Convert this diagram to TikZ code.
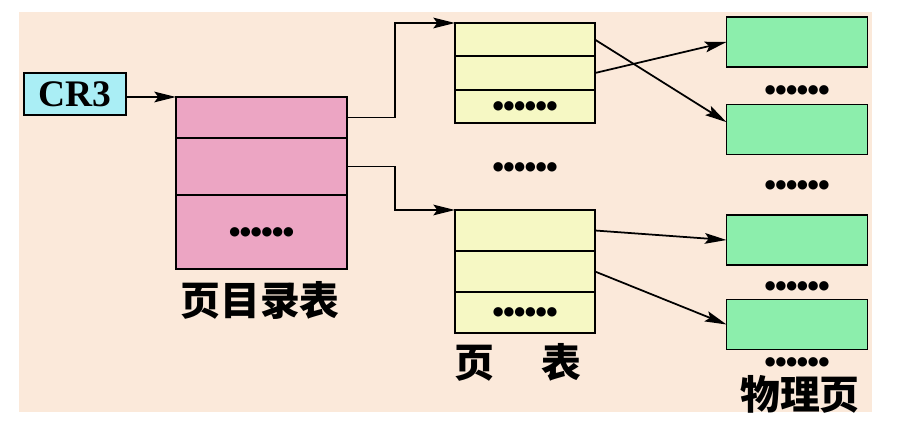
\documentclass[tikz,border=0pt]{standalone}
\usepackage{fontspec}
\setmainfont{Liberation Serif}
\newfontfamily\cjk{Noto Sans CJK SC}
\newfontfamily\symb{DejaVu Sans}
\usepackage{xcolor}
\usetikzlibrary{positioning, arrows.meta}

\definecolor{paper}{RGB}{251,233,218}
\definecolor{pinkfill}{RGB}{236,165,195}
\definecolor{yellowfill}{RGB}{246,248,196}
\definecolor{greenfill}{RGB}{140,238,172}
\definecolor{cyanfill}{RGB}{170,238,245}
\newcommand\sixdots{●●●●●●}

\begin{document}
\begin{tikzpicture}[
  x=0.03cm, y=-0.03cm,
  cell/.style={draw, line width=1.5pt, inner sep=0pt, outer sep=0pt},
  regbox/.style={cell, fill=cyanfill, minimum width=3.06cm, minimum height=1.26cm,
    font=\bfseries\fontsize{32}{32}\selectfont},
  pdrow/.style={cell, fill=pinkfill, minimum width=5.13cm},
  ptrow/.style={cell, fill=yellowfill, minimum width=4.2cm},
  page/.style={cell, fill=greenfill, minimum width=4.23cm, minimum height=1.5cm},
  dots/.style={font=\symb\fontsize{10.5}{10.5}\selectfont, inner sep=0pt},
  lbl/.style={font=\cjk\bfseries\fontsize{34}{34}\selectfont},
  arr/.style={-{Stealth[length=6.5mm, width=3.2mm, inset=1.2mm]}, line width=1.5pt}
]
\useasboundingbox (0,0) rectangle (905,432);
\fill[paper] (19,12) rectangle (872,412);

\node[regbox] (cr3) at (75,94) {CR3};

\node[pdrow, minimum height=1.23cm, anchor=north west] (pd1) at (176,97) {};
\node[pdrow, minimum height=1.71cm, below=0pt of pd1] (pd2) {};
\node[pdrow, minimum height=2.22cm, below=0pt of pd2] (pd3) {};
\node[dots] at (pd3) {\sixdots};
\node[lbl] (pdname) at (260,300) {页目录表};

\node[ptrow, minimum height=1.0cm, anchor=north west] (pt1a) at (455,23) {};
\node[ptrow, minimum height=1.0cm, below=0pt of pt1a] (pt1b) {};
\node[ptrow, minimum height=1.0cm, below=0pt of pt1b] (pt1c) {};
\node[dots] at (pt1c) {\sixdots};
\node[dots] (ptgap) at (525,167) {\sixdots};
\node[ptrow, minimum height=1.23cm, anchor=north west] (pt2a) at (455,210) {};
\node[ptrow, minimum height=1.23cm, below=0pt of pt2a] (pt2b) {};
\node[ptrow, minimum height=1.23cm, below=0pt of pt2b] (pt2c) {};
\node[dots] at (pt2c) {\sixdots};
\node[lbl] (ptname) at (518,362) {页\hspace{1.2em}表};

\node[page] (pg1) at (797,42) {};
\node[dots] (gap1) at (797,90) {\sixdots};
\node[page] (pg2) at (797,129.5) {};
\node[dots] (gap2) at (797,185) {\sixdots};
\node[page] (pg3) at (797,240) {};
\node[dots] (gap3) at (797,286) {\sixdots};
\node[page] (pg4) at (797,324.5) {};
\node[dots] (gap4) at (797,362) {\sixdots};
\node[lbl] (pgname) at (800,394) {物理页};

\draw[arr] (cr3.east |- pd1.north west) -- (pd1.north west);
\draw[arr] (pd1.east) -- ++(48,0) |- (pt1a.north west);
\draw[arr] (pd2.east) -- ++(48,0) |- (pt2a.north west);
\draw[arr] (pt1a.east) -- ([yshift=0.22cm]pg2.west);
\draw[arr] (pt1b.east) -- (pg1.west);
\draw[arr] (pt2a.east) -- (pg3.west);
\draw[arr] (pt2b.east) -- (pg4.west);
\end{tikzpicture}
\end{document}
